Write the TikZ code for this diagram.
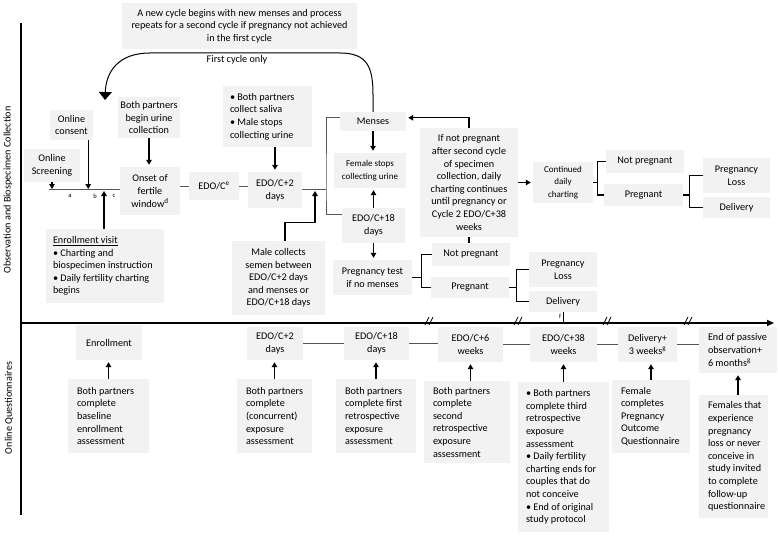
\documentclass[tikz,border=0pt]{standalone}
\usepackage{fontspec}
\setmainfont{Carlito}
\usetikzlibrary{arrows.meta,calc}
\definecolor{boxgray}{RGB}{242,242,242}
\definecolor{lgray}{RGB}{85,85,85}
\newcommand\fsA{\fontsize{10.2}{12.6}\selectfont}
\newcommand\fsB{\fontsize{9}{12.5}\selectfont}
\newcommand\fsC{\fontsize{6.5}{7}\selectfont}
\newcommand\lbox[7]{%
  \node[bx, minimum width=#4, minimum height=#5] (#1) at (#2,#3) {};
  \node[txl, anchor=west] (#1t) at ([xshift=#6pt]#1.west) {#7};}
\begin{document}
\begin{tikzpicture}[x=1pt,y=-1pt,
  bx/.style={fill=boxgray, inner sep=0pt, font=\fsA, align=center},
  txl/.style={font=\fsA, align=left, inner sep=0pt},
  arr/.style={line width=1.3pt, -{Triangle[length=5pt,width=5.5pt]}, shorten >=2pt},
  blk/.style={line width=1.1pt},
  gln/.style={line width=0.8pt, draw=lgray}]
\useasboundingbox (0,0) rectangle (778,535);

% axes
\coordinate (ax0) at (21,23);
\coordinate (ax1) at (21,515);
\coordinate (tl0) at (21,323);
\coordinate (tl1) at (774,323);
\draw[line width=1.6pt] (ax0) -- (ax1);
\draw[line width=1.6pt, -{Triangle[length=7pt,width=6pt]}] (tl0) -- (tl1);
\foreach \bx in {430,519,608,689}{
  \draw[line width=0.7pt] (\bx-5,325) -- (\bx-1,317);
  \draw[line width=0.7pt] (\bx-1,325) -- (\bx+3,317);}

\node[rotate=90, font=\fsA] (lab1) at (8,190) {Observation and Biospecimen Collection};
\node[rotate=90, font=\fsA] (lab2) at (9,408) {Online Questionnaires};

% top section
\node[bx, minimum width=235, minimum height=46] (topnote) at (239.5,26)
  {A new cycle begins with new menses and process\\repeats for a second cycle if pregnancy not achieved\\in the first cycle};
\node[font=\fsA, inner sep=0pt] (firstonly) at (237,60) {First cycle only};

\node[bx, minimum width=43, minimum height=30] (consent) at (71.5,125) {Online\\consent};
\node[bx, minimum width=62, minimum height=41] (urine) at (149,117.5) {Both partners\\begin urine\\collection};
\node[bx, minimum width=56, minimum height=33] (screening) at (52,165.5) {Online\\Screening};
\node[bx, minimum width=60, minimum height=48] (onset) at (150,191) {Onset of\\fertile\\window\textsuperscript{d}};
\node[bx, minimum width=50, minimum height=28] (edoce) at (214,186) {EDO/C\textsuperscript{e}};
\node[bx, minimum width=54, minimum height=36] (edo2top) at (275,190) {EDO/C+2\\days};
\lbox{saliva}{267.5}{116.5}{89}{61}{7}{• Both partners\\collect saliva\\• Male stops\\collecting urine}
\node[bx, minimum width=66, minimum height=19] (menses) at (373,121.5) {Menses};
\node[bx, minimum width=72, minimum height=35, font=\fsB] (femstops) at (370,170.5) {Female stops\\collecting urine};
\node[bx, minimum width=63, minimum height=35] (edo18top) at (373.5,225.5) {EDO/C+18\\days};
\node[bx, minimum width=79, minimum height=35] (pregtest) at (372.5,277.5) {Pregnancy test\\if no menses};
\node[bx, minimum width=78, minimum height=23] (notpreg1) at (471,254.5) {Not pregnant};
\node[bx, minimum width=78, minimum height=21] (preg1) at (470,287.5) {Pregnant};
\node[bx, minimum width=68, minimum height=35] (loss1) at (563,269.5) {Pregnancy\\Loss};
\node[bx, minimum width=68, minimum height=21] (deliv1) at (563,301.5) {Delivery};
\node[bx, minimum width=98, minimum height=109] (ifnot) at (469,182.5)
  {If not pregnant\\after second cycle\\of specimen\\collection, daily\\charting continues\\until pregnancy or\\Cycle 2 EDO/C+38\\weeks};
\node[bx, minimum width=60, minimum height=41, font=\fsB] (contd) at (563,182.5) {Continued\\daily\\charting};
\node[bx, minimum width=78, minimum height=23] (notpreg2) at (645,161.5) {Not pregnant};
\node[bx, minimum width=79, minimum height=22] (preg2) at (643.5,195) {Pregnant};
\node[bx, minimum width=67, minimum height=35] (loss2) at (736.5,175.5) {Pregnancy\\Loss};
\node[bx, minimum width=67, minimum height=21] (deliv2) at (736.5,207.5) {Delivery};
\node[bx, minimum width=93, minimum height=74] (male) at (278.5,278)
  {Male collects\\semen between\\EDO/C+2 days\\and menses or\\EDO/C+18 days};
\lbox{enrollvisit}{105}{266}{118}{74}{7}{\underline{Enrollment visit}\\• Charting and\\biospecimen instruction\\• Daily fertility charting\\begins}

% bottom section
\node[bx, minimum width=66, minimum height=35] (enroll) at (109,342.5) {Enrollment};
\lbox{q1}{108.5}{416}{81}{74}{9}{Both partners\\complete\\baseline\\enrollment\\assessment}
\node[bx, minimum width=56, minimum height=33] (edo2b) at (275,343.5) {EDO/C+2\\days};
\lbox{q2}{274.5}{416}{75}{74}{9}{Both partners\\complete\\(concurrent)\\exposure\\assessment}
\node[bx, minimum width=65, minimum height=33] (edo18b) at (376.5,343.5) {EDO/C+18\\days};
\lbox{q3}{376}{416}{80}{74}{9}{Both partners\\complete first\\retrospective\\exposure\\assessment}
\node[bx, minimum width=65, minimum height=35] (edo6) at (470.5,344.5) {EDO/C+6\\weeks};
\lbox{q4}{467}{422}{86}{82}{9}{Both partners\\complete\\second\\retrospective\\exposure\\assessment}
\node[bx, minimum width=67, minimum height=35] (edo38) at (563.5,344.5) {EDO/C+38\\weeks};
\lbox{q5}{563.5}{457}{91}{150}{8}{• Both partners\\complete third\\retrospective\\exposure\\assessment\\• Daily fertility\\charting ends for\\couples that do\\not conceive\\• End of original\\study protocol}
\node[bx, minimum width=59, minimum height=35] (deliv3w) at (647.5,344.5) {Delivery+\\3 weeks\textsuperscript{g}};
\lbox{q6}{651}{416.5}{78}{73}{9}{Female\\completes\\Pregnancy\\Outcome\\Questionnaire}
\lbox{endpass}{738}{350}{78}{46}{9}{End of passive\\observation+\\6 months\textsuperscript{g}}
\lbox{q7}{733.5}{456.5}{69}{123}{9}{Females that\\experience\\pregnancy\\loss or never\\conceive in\\study invited\\to complete\\follow-up\\questionnaire}

% cycle arc
\coordinate (arcend) at (105,100);
\draw[line width=1pt, -{Triangle[length=8pt,width=13pt]}] (menses.north) -- (373,95)
  .. controls (373,68) and (368,53) .. (340,53) -- (150,53)
  .. controls (118,53) and (106,72) .. (arcend);

% small enrollment timeline
\coordinate (sa) at (49,189);
\draw[gln] (sa) -- (onset.west |- sa);
\node[font=\fsC, inner sep=0pt] (la) at (70,196) {a};
\node[font=\fsC, inner sep=0pt] (lb) at (95,196) {b};
\node[font=\fsC, inner sep=0pt] (lc) at (114,196) {c};
\draw[arr, shorten >=0pt] (screening.south) -- (screening.south |- sa);
\coordinate (cq) at ($(consent.south east)+(-5,0)$);
\draw[arr, shorten >=0pt] (cq) -- (cq |- sa);
\coordinate (eb) at (104,191);
\draw[arr, shorten >=0pt] (enrollvisit.north -| eb) -- (eb);

% top connectors
\draw[arr] (urine.south) -- (urine.south |- onset.north);
\draw[arr] (edo2top.north |- saliva.south) -- (edo2top.north);
\draw[gln] (onset.east |- edoce.west) -- (edoce.west);
\draw[gln] (edoce.east) -- (edoce.east -| edo2top.west);
\coordinate (bj) at (326,189);
\draw[gln] (edo2top.east |- bj) -- (bj);
\draw[gln] ($(menses.north west)+(0,6)$) -| (bj) |- ($(edo18top.north west)+(0,7)$);
\coordinate (mtip) at (315,191);
\draw[arr, shorten >=0pt] ($(male.north)+(6.5,0)$) -- ++(0,-18) -| (mtip);
\draw[arr] (ifnot.north) |- ($(menses.north east)+(0,6)$);
\draw[arr] (ifnot.east) -- (contd.west);
\draw[blk] (ifnot.south) -- (ifnot.south |- notpreg1.north);
\draw[arr] (menses.south) -- (menses.south |- femstops.north);
\draw[arr] (edo18top.north) -- (edo18top.north |- femstops.south);
\draw[arr] (edo18top.south) -- (edo18top.south |- pregtest.north);

% brackets
\draw[blk] (pregtest.east) -- ++(9,0) coordinate (pb1);
\draw[blk] (notpreg1.west) -| (pb1) |- (preg1.west);
\draw[blk] (preg1.east) -- ++(7,0) coordinate (pb2);
\draw[blk] (loss1.west) -| (pb2) |- (deliv1.west);
\draw[blk] (contd.east) -- ++(4,0) coordinate (pb3);
\draw[blk] (notpreg2.west) -| (pb3) |- (preg2.west);
\draw[blk] (preg2.east) -- ++(6,0) coordinate (pb4);
\draw[blk] (loss2.west) -| (pb4) |- (deliv2.west);

% delivery tick
\draw[line width=0.8pt] (deliv1.south) -- (deliv1.south |- tl0);
\node[font=\fsC, inner sep=0pt] (flab) at (560,316) {f};

% bottom connectors
\draw[gln] (edo2b.east) -- (edo2b.east -| edo18b.west);
\draw[gln] (edo18b.east) -- (edo18b.east -| edo6.west);
\draw[gln] (edo6.east) -- (edo6.east -| edo38.west);
\draw[gln] (edo38.east) -- (edo38.east -| deliv3w.west);
\draw[gln] (deliv3w.east) -- (deliv3w.east -| endpass.west);
\draw[arr] (q1.north) -- (q1.north |- enroll.south);
\draw[arr] (q2.north) -- (q2.north |- edo2b.south);
\draw[arr] (q3.north) -- (q3.north |- edo18b.south);
\draw[arr] (edo6.south |- q4.north) -- (edo6.south);
\draw[arr] (q5.north) -- (q5.north |- edo38.south);
\draw[arr] (q6.north) -- (q6.north |- deliv3w.south);
\draw[arr] (endpass.south |- q7.north) -- (endpass.south);
\end{tikzpicture}
\end{document}
